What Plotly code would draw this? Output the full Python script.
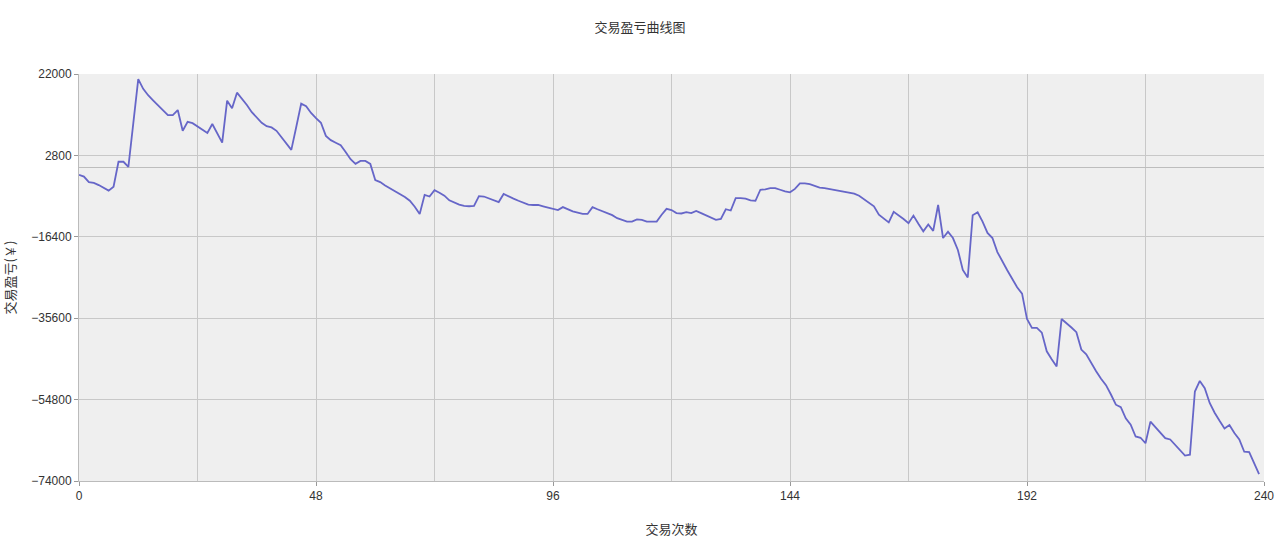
import plotly.graph_objects as go

# 交易盈亏 per trade (index 0..239)
pnl = [
    -1800, -2200, -3500, -3700, -4200, -4900, -5500, -4600, 1300, 1300,
    100, 10400, 20800, 18500, 17000, 15800, 14600, 13300, 12300, 12300,
    13500, 8600, 10700, 10400, 9600, 8700, 8100, 10200, 8000, 5800,
    15700, 13900, 17600, 16200, 14700, 13000, 11700, 10500, 9700, 9400,
    8600, 7100, 5600, 4100, 9500, 15000, 14400, 12800, 11600, 10500,
    7400, 6400, 5800, 5200, 3600, 1900, 800, 1500, 1500, 800,
    -3000, -3500, -4300, -5000, -5600, -6200, -7000, -7900, -9300, -11000,
    -6500, -6900, -5400, -6000, -6700, -7800, -8400, -8800, -9100, -9200,
    -9100, -6800, -6900, -7300, -7800, -8200, -6300, -6900, -7400, -7900,
    -8300, -8800, -8900, -8900, -9200, -9500, -9900, -10100, -9400, -9900,
    -10400, -10700, -11000, -11000, -9400, -9900, -10400, -10800, -11300, -12000,
    -12400, -12800, -12800, -12300, -12400, -12800, -12800, -12800, -11200, -9800,
    -10100, -10800, -10900, -10600, -10800, -10300, -10800, -11300, -11900, -12400,
    -12200, -9900, -10200, -7300, -7300, -7400, -7800, -7900, -5300, -5200,
    -4900, -4900, -5300, -5700, -5900, -5100, -3800, -3800, -4000, -4400,
    -4800, -4900, -5100, -5300, -5500, -5700, -5900, -6200, -6700, -7600,
    -8400, -9200, -11200, -12100, -13000, -10500, -11300, -12200, -13200, -11400,
    -13300, -15100, -13500, -15000, -8900, -16700, -15200, -16700, -19500, -24200,
    -26000, -11300, -10600, -12800, -15500, -16700, -20000, -22300, -24300, -26300,
    -28300, -29800, -35800, -37900, -37900, -39000, -43400, -45300, -47000, -35800,
    -36700, -37800, -38900, -43000, -44100, -46200, -48100, -49900, -51400, -53600,
    -56000, -56600, -59200, -60700, -63500, -63800, -65100, -60000, -61300, -62700,
    -63900, -64200, -65500, -66800, -68000, -67800, -52900, -50400, -52100, -55600,
    -57900, -59800, -61600, -60800, -62700, -64200, -67100, -67200, -69700, -72400,
]
trades = list(range(len(pnl)))

title_text = "交易盈亏曲线图"
x_title = "交易次数"
y_title = "交易盈亏(￥)"

FONT = "Liberation Sans, Arial, Noto Sans CJK SC, sans-serif"
CJK = "Noto Sans CJK SC, Liberation Sans, sans-serif"

fig = go.Figure()
fig.add_trace(go.Scatter(
    x=trades, y=pnl, mode="lines",
    line=dict(color="#6666c8", width=1.8),
    showlegend=False,
))

grid = "#c8c8c8"
fig.update_layout(
    width=1280, height=546,
    margin=dict(l=79, r=16, t=74, b=65),
    paper_bgcolor="white",
    plot_bgcolor="#efefef",
    font=dict(family=FONT, size=12, color="#333333"),
    title=dict(text=title_text, x=0.5, xanchor="center",
               yref="container", y=1 - 27 / 546, yanchor="middle",
               font=dict(family=CJK, size=13, color="#333333")),
    xaxis=dict(
        range=[0, 240], tick0=0, dtick=48,
        showgrid=True, gridcolor=grid, gridwidth=1,
        minor=dict(dtick=24, showgrid=True, gridcolor=grid, gridwidth=1),
        ticks="outside", ticklen=4, tickcolor="#999999",
        showline=True, linecolor="#bbbbbb", linewidth=1,
        zeroline=False, automargin=False,
        tickfont=dict(family=FONT, size=12, color="#333333"),
        title=dict(text=x_title, standoff=22, font=dict(family=CJK, size=13, color="#333333")),
    ),
    yaxis=dict(
        range=[-74000, 22000], tick0=-74000, dtick=19200,
        showgrid=True, gridcolor=grid, gridwidth=1,
        zeroline=True, zerolinecolor="#bdbdbd", zerolinewidth=1,
        ticks="outside", ticklen=4, tickcolor="#999999",
        showline=True, linecolor="#bbbbbb", linewidth=1,
        tickformat="d", automargin=False,
        tickfont=dict(family=FONT, size=12, color="#333333"),
        title=dict(text=y_title, standoff=12, font=dict(family=CJK, size=13, color="#333333")),
    ),
)

fig.write_html("out.html", config={"displayModeBar": False},
               post_script="document.body.style.margin='0px';")
